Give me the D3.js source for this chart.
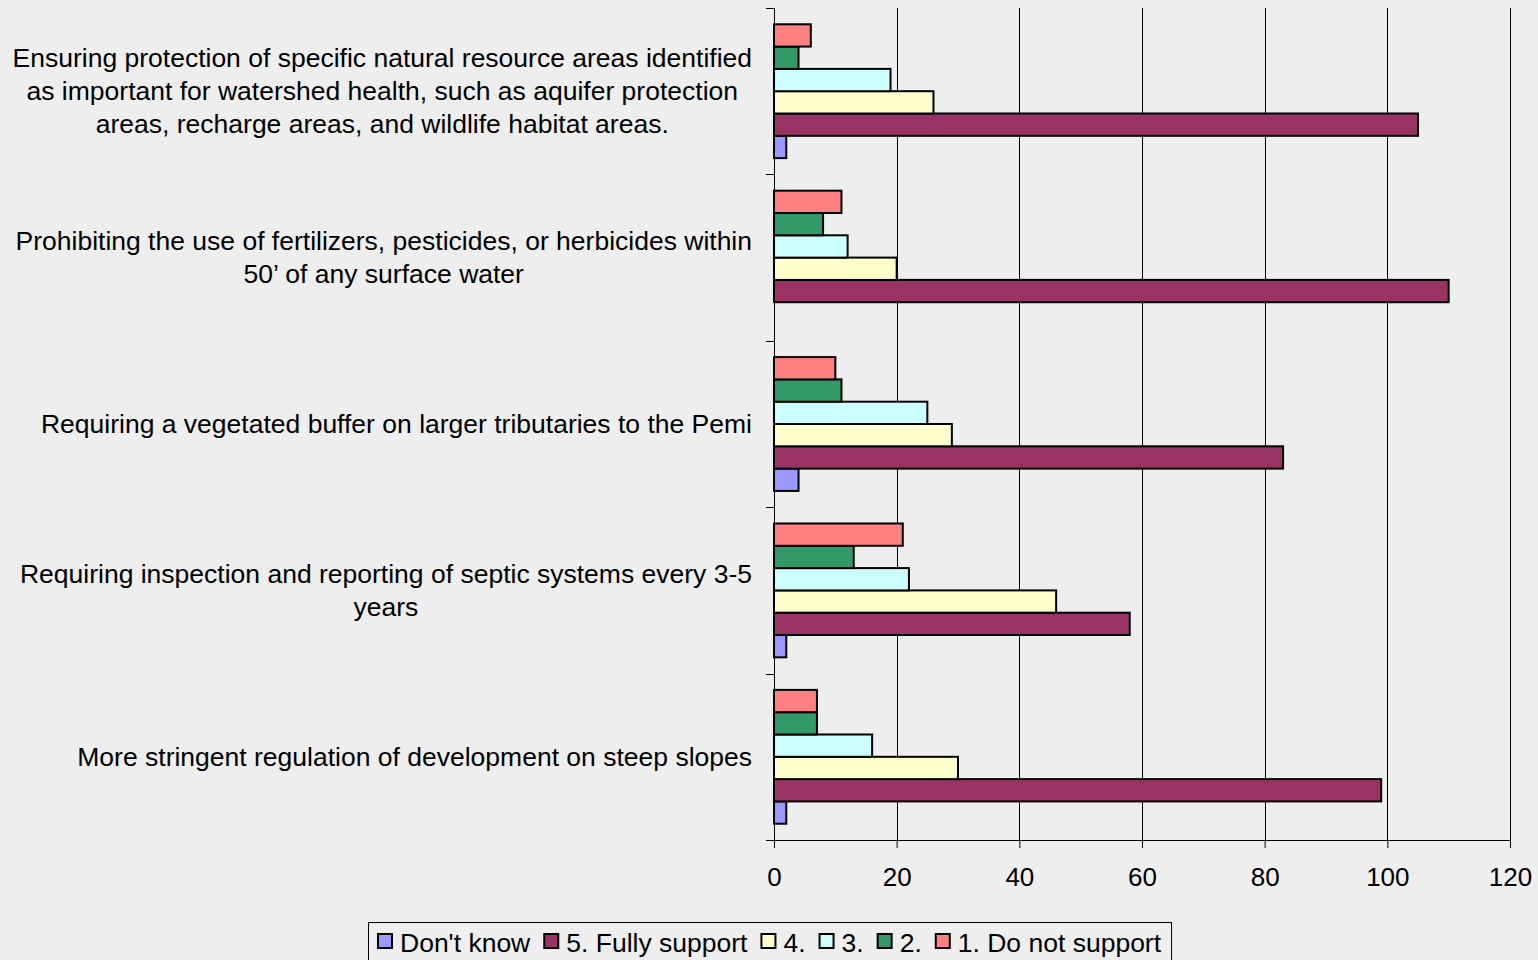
<!DOCTYPE html>
<html><head><meta charset="utf-8">
<script src="https://cdn.jsdelivr.net/npm/d3@7"></script>
<style>
html,body{margin:0;padding:0;background:#EEEEEE;}
svg{display:block;font-family:"Liberation Sans",Arial,sans-serif;}
</style></head>
<body><svg id="c" width="1538" height="960"></svg>
<script>
const categories = [
  ["Ensuring protection of specific natural resource areas identified","as important for watershed health, such as aquifer protection","areas, recharge areas, and wildlife habitat areas."],
  ["Prohibiting the use of fertilizers, pesticides, or herbicides within","50’ of any surface water"],
  ["Requiring a vegetated buffer on larger tributaries to the Pemi"],
  ["Requiring inspection and reporting of septic systems every 3-5","years"],
  ["More stringent regulation of development on steep slopes"]
];
const seriesNames = ["Don't know","5. Fully support","4.","3.","2.","1. Do not support"];
const seriesColors = ["#9999FF","#993366","#FFFFCC","#CCFFFF","#339966","#FF8080"];
const dontKnow     = [2, 0, 4, 2, 2];
const fullySupport = [105, 110, 83, 58, 99];
const four         = [26, 20, 29, 46, 30];
const three        = [19, 12, 25, 22, 16];
const two          = [4, 8, 11, 13, 7];
const doNotSupport = [6, 11, 10, 21, 7];
const xTicks = [0,20,40,60,80,100,120];

const seriesValues = [dontKnow, fullySupport, four, three, two, doNotSupport];

const svg = d3.select("#c");
const L = 774, R = 1510, T = 8, B = 840;
const FS = 26.5;
const x = d3.scaleLinear().domain([0,120]).range([L,R]);
const y = d3.scaleBand().domain(d3.range(categories.length)).range([T,B]).paddingInner(0).paddingOuter(0);
const inner = d3.scaleBand().domain(d3.range(seriesNames.length).reverse())
  .range([0, y.bandwidth()]).paddingOuter(0.73).paddingInner(0);

// gridlines
svg.append("g").selectAll("line").data(xTicks.filter(d=>d>0)).join("line")
  .attr("x1",d=>Math.round(x(d))+0.5).attr("x2",d=>Math.round(x(d))+0.5)
  .attr("y1",T).attr("y2",B).attr("stroke","#000").attr("stroke-width",1);

// bars
const g = svg.append("g");
seriesValues.forEach((vals,si)=>{
  g.append("g").selectAll("rect").data(vals).join("rect")
    .attr("x",x(0))
    .attr("y",(d,i)=>y(i)+inner(si))
    .attr("width",d=>x(d)-x(0))
    .attr("height",inner.bandwidth())
    .attr("fill",seriesColors[si])
    .attr("stroke","#000").attr("stroke-width",2)
    .attr("display",d=>d>0?null:"none");
});

// x axis
const xa = svg.append("g").attr("transform",`translate(0,${B})`)
  .call(d3.axisBottom(x).tickValues(xTicks).tickSize(8).tickPadding(20).tickSizeOuter(0));
xa.select(".domain").attr("d",`M${L-8},0.5H${R}`).attr("stroke","#000");
xa.selectAll(".tick line").attr("stroke","#000");
xa.selectAll(".tick text").attr("font-size",26).attr("fill","#000").attr("font-family","Liberation Sans, Arial, sans-serif");

// y axis
const yTicks = d3.range(categories.length+1).map(i=>T + i*y.bandwidth());
svg.append("line").attr("x1",L+0.5).attr("x2",L+0.5).attr("y1",T).attr("y2",B).attr("stroke","#000");
svg.append("g").selectAll("line").data(yTicks).join("line")
  .attr("x1",L-8).attr("x2",L).attr("y1",d=>Math.round(d)+0.5).attr("y2",d=>Math.round(d)+0.5).attr("stroke","#000");

// category labels
const lh = 33;
categories.forEach((lines,i)=>{
  const cy = y(i)+y.bandwidth()/2;
  const t = svg.append("text").attr("font-size",FS).attr("fill","#000").attr("text-anchor","middle");
  const spans = lines.map((ln,k)=>t.append("tspan").attr("y",cy + (k-(lines.length-1)/2)*lh).attr("dy","0.35em").text(ln));
  const maxW = d3.max(spans.map(s=>s.node().getComputedTextLength()));
  spans.forEach(s=>s.attr("x",752-maxW/2));
});

// legend
const lg = svg.append("g");
const box = lg.append("rect").attr("x",368.5).attr("y",922.5).attr("height",44).attr("fill","none").attr("stroke","#000");
let cx = 378;
seriesNames.forEach((n,si)=>{
  lg.append("rect").attr("x",cx).attr("y",934).attr("width",14).attr("height",14)
    .attr("fill",seriesColors[si]).attr("stroke","#000").attr("stroke-width",2);
  const t = lg.append("text").attr("x",cx+22).attr("y",952).attr("font-size",FS).attr("fill","#000").text(n);
  cx = cx + 22 + t.node().getComputedTextLength() + 14;
});
box.attr("width",cx-368-4);
</script></body></html>
